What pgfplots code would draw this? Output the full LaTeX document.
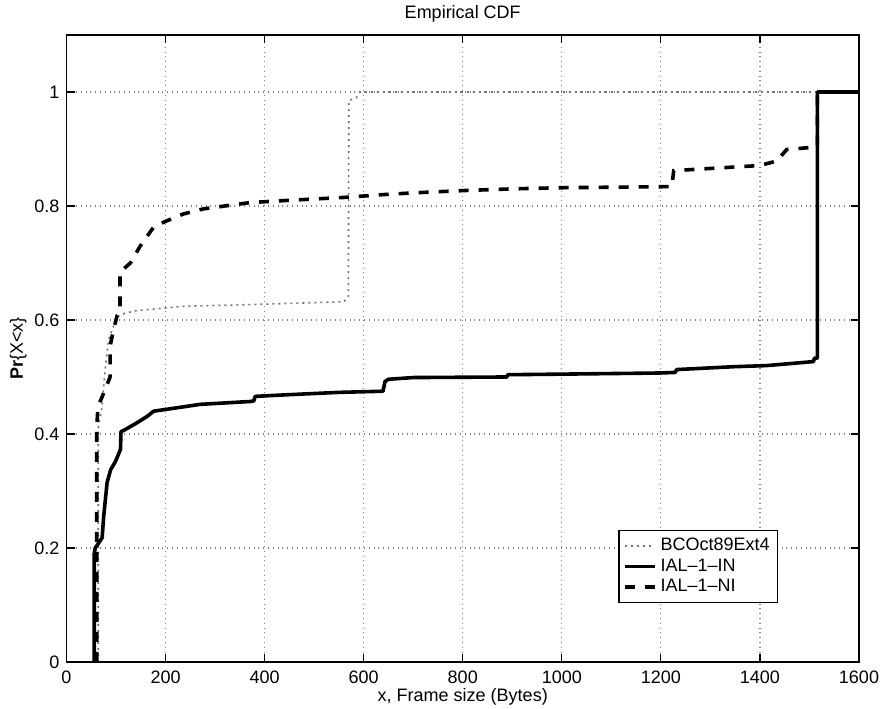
\documentclass[border=0pt]{standalone}
\usepackage{fontspec}
\setmainfont{Liberation Sans}
\usepackage{pgfplots}
\pgfplotsset{compat=1.18}
\begin{document}
\begin{tikzpicture}[font=\fontsize{9}{10}\selectfont]
\begin{axis}[
  scale only axis, width=396.25pt, height=313.5pt,
  xmin=0, xmax=1600, ymin=0, ymax=1.1,
  xtick={0,200,...,1600}, ytick={0,0.2,0.4,0.6,0.8,1},
  scaled ticks=false,
  /pgf/number format/1000 sep={},
  /pgf/number format/assume math mode=true,
  tick label style={font=\fontsize{9}{10}\selectfont},
  xticklabel style={yshift=-1pt},
  grid=major, grid style={dotted, black!50, line width=0.6pt},
  axis line style={line width=0.6pt},
  tick style={black, line width=0.6pt},
  major tick length=4pt,
  tick align=inside,
  title={Empirical CDF},
  title style={yshift=-3pt},
  xlabel={x, Frame size (Bytes)},
  xlabel style={yshift=4.5pt},
  ylabel={\textbf{Pr}\{X<x\}},
  ylabel style={yshift=-3pt},
  legend cell align=left,
  legend style={at={(0.898,0.094)}, anchor=south east, draw=black, fill=white,
    line width=0.6pt, font=\fontsize{9}{10}\selectfont, row sep=-1.5pt, inner sep=2pt},
  legend image code/.code={\draw[#1] plot coordinates {(0pt,0pt) (15pt,0pt)};},
]
\addplot[black!55, line width=0.8pt, dash pattern=on 1pt off 2pt] coordinates {
(64,0) (64,0.41) (71,0.443) (78,0.513) (85,0.566) (102,0.605) (111,0.61) (138,0.616)
(236,0.624) (371,0.627) (560,0.632) (569,0.64) (570,0.985) (585,0.99) (593,1.0) (1600,1.0)
};
\addlegendentry{BCOct89Ext4}
\addplot[black, line width=1.8pt, line join=round] coordinates {
(56,0) (56,0.19) (58,0.20) (62,0.205) (72,0.218) (75,0.255) (82,0.315) (89,0.337)
(99,0.352) (109,0.373) (110,0.404) (119,0.408) (143,0.42) (163,0.431) (176,0.44)
(200,0.443) (270,0.452) (371,0.457) (378,0.458) (381,0.466) (450,0.469) (550,0.473)
(639,0.475) (643,0.492) (650,0.496) (700,0.499) (889,0.500) (891,0.504) (1000,0.505)
(1198,0.507) (1229,0.508) (1232,0.513) (1346,0.518) (1414,0.520) (1508,0.527)
(1510,0.533) (1516,0.533) (1516,1.0) (1600,1.0)
};
\addlegendentry{IAL--1--IN}
\addplot[black, line width=1.8pt, dash pattern=on 5pt off 5pt] coordinates {
(61,0) (61,0.41) (63,0.44) (68,0.457) (78,0.478) (88,0.50) (88,0.554) (95,0.583)
(102,0.607) (108,0.612) (108,0.684) (129,0.70) (149,0.73) (176,0.763) (200,0.773)
(236,0.786) (277,0.795) (371,0.806) (450,0.810) (560,0.815) (640,0.820) (700,0.823)
(800,0.827) (900,0.830) (996,0.832) (1222,0.834) (1226,0.862) (1400,0.871)
(1434,0.879) (1454,0.899) (1507,0.903) (1516,0.905) (1516,1.0) (1600,1.0)
};
\addlegendentry{IAL--1--NI}
\coordinate (bl) at (rel axis cs:0,0);
\coordinate (tr) at (rel axis cs:1,1);
\end{axis}
\pgfresetboundingbox
\path[use as bounding box] ([xshift=-33.25pt,yshift=-23.5pt]bl) rectangle ([xshift=13pt,yshift=17.5pt]tr);
\end{tikzpicture}
\end{document}
